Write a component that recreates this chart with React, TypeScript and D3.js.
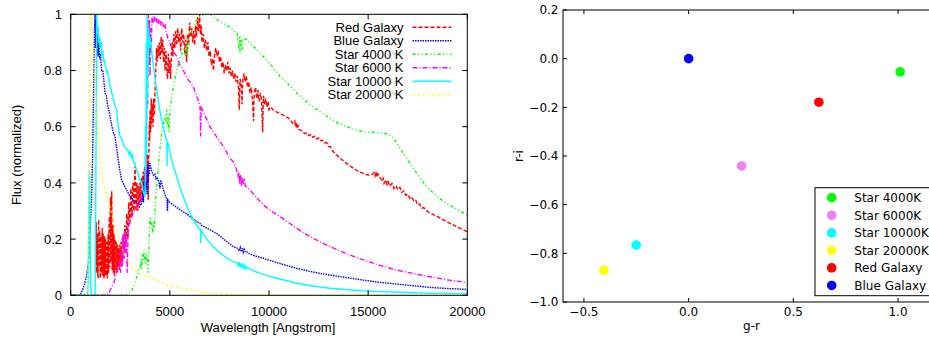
import React from "react";
import * as d3 from "d3";

type P = [number, number];

// ---- Left panel: spectra (wavelength [A], normalized flux) ----
const redGalaxy: P[] = [
  [1260,0.12],[1275,0.2],[1290,0.26],[1305,0.1],[1320,0.08],[1335,0.19],[1350,0.22],[1365,0.07],[1380,0.06],[1395,0.18],[1410,0.27],[1425,0.13],[1440,0.10],[1455,0.23],[1470,0.20],[1485,0.06],[1500,0.07],[1515,0.21],[1530,0.18],[1545,0.08],[1560,0.09],[1575,0.2],[1590,0.24],[1605,0.07],[1620,0.11],[1635,0.22],[1650,0.19],[1665,0.08],[1680,0.06],[1695,0.17],[1710,0.21],[1725,0.07],[1740,0.12],[1755,0.2],[1770,0.17],[1785,0.07],[1800,0.08],[1815,0.19],[1830,0.16],[1845,0.06],[1860,0.10],[1875,0.2],[1890,0.22],[1905,0.08],[1920,0.09],[1935,0.25],[1950,0.28],[1965,0.1],[1980,0.12],[1995,0.3],[2010,0.35],[2025,0.12],[2040,0.14],[2055,0.33],[2070,0.37],[2085,0.09],[2100,0.10],[2115,0.22],[2130,0.25],[2145,0.08],[2160,0.13],[2175,0.22],[2190,0.20],[2205,0.07],[2220,0.08],[2235,0.2],[2250,0.18],[2265,0.09],[2280,0.11],[2295,0.19],[2310,0.17],[2325,0.08],[2340,0.09],[2355,0.18],[2370,0.16],[2385,0.1],[2400,0.12],[2415,0.17],[2430,0.15],[2445,0.09],[2460,0.10],[2475,0.18],[2490,0.17],[2505,0.11],[2520,0.13],[2535,0.19],[2550,0.18],[2575,0.12],[2600,0.14],[2625,0.21],[2650,0.2],[2675,0.13],[2700,0.16],[2725,0.25],[2750,0.23],[2775,0.17],[2800,0.2],[2825,0.29],[2850,0.27],[2875,0.2],[2900,0.24],[2925,0.33],[2950,0.31],[2975,0.25],[3000,0.28],[3025,0.38],[3050,0.36],[3075,0.28],[3100,0.30],[3125,0.39],[3150,0.40],[3175,0.3],[3200,0.31],[3225,0.42],[3250,0.46],[3280,0.33],[3300,0.3],[3320,0.38],[3340,0.4],[3360,0.32],[3380,0.3],[3400,0.36],[3420,0.39],[3440,0.32],[3460,0.31],[3480,0.37],[3500,0.4],[3520,0.34],[3540,0.33],[3560,0.40],[3580,0.42],[3600,0.35],[3620,0.34],[3640,0.43],[3660,0.44],[3680,0.37],[3700,0.36],[3720,0.45],[3740,0.46],[3760,0.39],[3780,0.38],[3800,0.48],[3820,0.47],[3840,0.41],[3860,0.4],[3880,0.50],[3895,0.42],[3910,0.34],[3925,0.45],[3940,0.50],[3955,0.58],[3970,0.62],[3985,0.55],[4000,0.66],[4015,0.64],[4030,0.58],[4045,0.6],[4060,0.70],[4075,0.67],[4090,0.61],[4105,0.63],[4120,0.68],[4135,0.66],[4150,0.60],[4165,0.62],[4180,0.70],[4195,0.67],[4210,0.64],[4230,0.66],[4250,0.72],[4270,0.76],[4290,0.80],[4310,0.84],[4330,0.88],[4345,0.86],[4360,0.83],[4380,0.87],[4400,0.89],[4420,0.87],[4440,0.85],[4460,0.88],[4480,0.90],[4500,0.88],[4520,0.84],[4540,0.87],[4560,0.92],[4580,0.9],[4600,0.86],[4620,0.88],[4640,0.91],[4660,0.88],[4680,0.83],[4700,0.85],[4720,0.88],[4740,0.85],[4760,0.80],[4780,0.83],[4800,0.87],[4820,0.85],[4840,0.81],[4860,0.79],[4880,0.77],[4900,0.8],[4920,0.86],[4940,0.83],[4960,0.79],[4980,0.81],[5000,0.84],[5020,0.8],[5040,0.77],[5060,0.82],[5080,0.86],[5100,0.88],[5120,0.90],[5140,0.87],[5160,0.85],[5180,0.9],[5200,0.93],[5225,0.9],[5250,0.88],[5275,0.92],[5300,0.94],[5325,0.91],[5350,0.89],[5375,0.93],[5400,0.95],[5425,0.92],[5450,0.90],[5475,0.92],[5500,0.93],[5525,0.9],[5550,0.87],[5575,0.92],[5600,0.95],[5625,0.93],[5650,0.90],[5675,0.92],[5700,0.93],[5725,0.89],[5750,0.86],[5775,0.89],[5800,0.91],[5825,0.87],[5850,0.83],[5875,0.89],[5900,0.93],[5925,0.91],[5950,0.89],[5975,0.93],[6000,0.97],[6025,0.94],[6050,0.92],[6075,0.94],[6100,0.95],[6125,0.92],[6150,0.90],[6175,0.92],[6200,0.94],[6225,0.91],[6250,0.89],[6275,0.93],[6300,0.96],[6325,0.94],[6350,0.92],[6375,0.96],[6400,0.99],[6425,0.96],[6450,0.94],[6475,0.97],[6500,1.0],[6520,0.96],[6540,0.93],[6560,0.94],[6580,0.96],[6600,0.93],[6620,0.90],[6650,0.92],[6680,0.93],[6710,0.9],[6740,0.88],[6770,0.9],[6800,0.91],[6830,0.89],[6860,0.87],[6890,0.89],[6920,0.90],[6950,0.87],[6980,0.85],[7010,0.86],[7040,0.87],[7070,0.84],[7100,0.82],[7130,0.83],[7160,0.84],[7180,0.82],[7200,0.80],[7230,0.83],[7260,0.86],[7290,0.87],[7320,0.88],[7350,0.86],[7380,0.85],[7410,0.86],[7440,0.87],[7470,0.85],[7500,0.83],[7530,0.84],[7560,0.85],[7590,0.83],[7620,0.81],[7650,0.82],[7680,0.83],[7710,0.81],[7740,0.79],[7770,0.8],[7800,0.82],[7830,0.81],[7860,0.80],[7890,0.81],[7920,0.83],[7950,0.81],[7980,0.79],[8010,0.8],[8040,0.81],[8070,0.79],[8100,0.78],[8130,0.79],[8160,0.80],[8190,0.78],[8220,0.77],[8250,0.78],[8280,0.79],[8310,0.77],[8340,0.76],[8370,0.77],[8400,0.78],[8430,0.76],[8460,0.74],[8480,0.7],[8500,0.66],[8520,0.72],[8540,0.77],[8570,0.76],[8600,0.75],[8620,0.72],[8640,0.68],[8660,0.73],[8680,0.77],[8710,0.78],[8740,0.79],[8770,0.77],[8800,0.76],[8830,0.77],[8860,0.78],[8890,0.76],[8920,0.74],[8950,0.75],[8980,0.76],[9010,0.74],[9040,0.72],[9070,0.73],[9100,0.74],[9130,0.72],[9160,0.70],[9190,0.66],[9220,0.62],[9240,0.68],[9260,0.72],[9290,0.73],[9320,0.74],[9350,0.72],[9380,0.70],[9410,0.71],[9440,0.73],[9470,0.71],[9500,0.69],[9530,0.7],[9560,0.72],[9590,0.71],[9620,0.70],[9650,0.64],[9680,0.58],[9700,0.65],[9720,0.71],[9750,0.7],[9780,0.68],[9810,0.69],[9840,0.70],[9870,0.68],[9900,0.67],[9930,0.68],[9960,0.69],[9980,0.67],[10000,0.66],[10100,0.67],[10200,0.66],[10400,0.652],[10600,0.645],[10800,0.638],[11000,0.63],[11200,0.612],[11300,0.62],[11340,0.60],[11380,0.615],[11420,0.595],[11460,0.607],[11500,0.59],[11600,0.588],[11700,0.582],[11800,0.575],[11900,0.578],[12000,0.568],[12100,0.572],[12200,0.562],[12300,0.566],[12400,0.556],[12500,0.56],[12600,0.55],[12700,0.552],[12800,0.542],[12900,0.544],[13000,0.53],[13100,0.528],[13200,0.515],[13400,0.5],[13600,0.487],[13800,0.475],[14000,0.465],[14200,0.455],[14400,0.445],[14600,0.438],[14800,0.432],[15000,0.428],[15200,0.43],[15300,0.437],[15350,0.425],[15400,0.44],[15450,0.42],[15500,0.432],[15600,0.418],[15700,0.41],[15750,0.42],[15800,0.398],[15900,0.41],[15950,0.395],[16000,0.405],[16100,0.388],[16200,0.398],[16300,0.38],[16400,0.39],[16500,0.376],[16600,0.384],[16700,0.366],[16800,0.372],[16900,0.356],[17000,0.36],[17100,0.345],[17200,0.35],[17300,0.335],[17400,0.338],[17500,0.322],[17600,0.325],[17700,0.31],[17800,0.312],[18000,0.298],[18500,0.28],[19000,0.26],[19500,0.243],[20000,0.226],
];

const blueGalaxy: P[] = [
  [0,0],[400,0],[500,0.005],[600,0.02],[700,0.04],[800,0.07],[900,0.12],[950,0.18],[1000,0.26],[1050,0.34],[1100,0.48],[1150,0.7],[1200,0.95],[1230,1.0],[1260,0.88],[1290,0.98],[1320,0.86],[1350,0.95],[1380,0.85],[1420,0.9],[1460,0.84],[1500,0.86],[1560,0.8],[1620,0.8],[1680,0.76],[1730,0.72],[1800,0.71],[1850,0.68],[1920,0.66],[2000,0.63],[2080,0.6],[2150,0.58],[2235,0.565],[2320,0.52],[2400,0.48],[2490,0.44],[2570,0.41],[2700,0.39],[2820,0.375],[3000,0.35],[3240,0.335],[3410,0.327],[3550,0.32],[3600,0.34],[3640,0.38],[3670,0.33],[3700,0.42],[3730,0.36],[3760,0.45],[3790,0.38],[3820,0.43],[3850,0.36],[3880,0.46],[3910,0.4],[3940,0.47],[3970,0.43],[4000,0.47],[4050,0.45],[4100,0.44],[4150,0.43],[4200,0.425],[4250,0.43],[4300,0.415],[4350,0.42],[4400,0.41],[4450,0.405],[4500,0.38],[4540,0.41],[4600,0.395],[4700,0.37],[4800,0.35],[4860,0.34],[4880,0.30],[4900,0.34],[5000,0.33],[5200,0.32],[5400,0.31],[5600,0.30],[5850,0.29],[6200,0.27],[6520,0.256],[6560,0.25],[6900,0.238],[7360,0.22],[7800,0.195],[8200,0.173],[8400,0.168],[8500,0.158],[8550,0.17],[8600,0.155],[8650,0.168],[8700,0.153],[8750,0.164],[8800,0.155],[8880,0.155],[9000,0.148],[9300,0.14],[9710,0.132],[10000,0.125],[10500,0.114],[11000,0.104],[11400,0.096],[12000,0.086],[12500,0.079],[13080,0.072],[13900,0.063],[14760,0.054],[15600,0.046],[16440,0.04],[17300,0.034],[18120,0.028],[19000,0.024],[20000,0.021],
];

const star4000: P[] = [
  [0,0],[2700,0],[2900,0.005],[3000,0.01],[3100,0.02],[3160,0.03],[3250,0.045],[3330,0.066],[3400,0.08],[3450,0.095],[3500,0.10],[3550,0.13],[3580,0.09],[3620,0.15],[3660,0.12],[3700,0.16],[3740,0.13],[3780,0.11],[3820,0.15],[3860,0.12],[3900,0.08],[3940,0.16],[3970,0.24],[4000,0.28],[4040,0.25],[4080,0.27],[4120,0.22],[4170,0.26],[4220,0.23],[4260,0.32],[4300,0.36],[4350,0.40],[4400,0.44],[4450,0.49],[4500,0.52],[4550,0.55],[4600,0.58],[4650,0.6],[4700,0.62],[4750,0.64],[4800,0.62],[4840,0.66],[4880,0.6],[4920,0.64],[4960,0.58],[5000,0.65],[5050,0.68],[5100,0.71],[5180,0.74],[5250,0.77],[5350,0.8],[5450,0.83],[5550,0.85],[5650,0.87],[5750,0.88],[5800,0.85],[5850,0.9],[5900,0.86],[5950,0.91],[6010,0.92],[6100,0.94],[6200,0.96],[6350,0.98],[6520,0.99],[6600,0.995],[6800,1.0],[7000,1.0],[7200,0.99],[7400,0.98],[7700,0.968],[8000,0.955],[8200,0.944],[8400,0.93],[8470,0.88],[8500,0.92],[8540,0.86],[8580,0.92],[8640,0.87],[8700,0.915],[8880,0.91],[9040,0.897],[9300,0.88],[9710,0.85],[10100,0.82],[10560,0.778],[11000,0.75],[11400,0.72],[11800,0.695],[12230,0.67],[12650,0.65],[13070,0.63],[13500,0.612],[13920,0.6],[14300,0.59],[14760,0.582],[15260,0.58],[15760,0.577],[16000,0.573],[16270,0.56],[16500,0.535],[16770,0.505],[17100,0.47],[17450,0.434],[17800,0.4],[18120,0.375],[18500,0.35],[18960,0.327],[19500,0.305],[20000,0.286],
];

const star6000: P[] = [
  [0,0],[1800,0],[1900,0.005],[2000,0.02],[2100,0.035],[2200,0.05],[2300,0.075],[2400,0.1],[2480,0.12],[2520,0.08],[2560,0.2],[2600,0.1],[2640,0.22],[2680,0.12],[2720,0.23],[2760,0.15],[2800,0.21],[2850,0.08],[2900,0.24],[3000,0.265],[3075,0.28],[3200,0.3],[3300,0.315],[3410,0.327],[3550,0.345],[3650,0.36],[3750,0.37],[3780,0.45],[3800,0.4],[3830,0.64],[3860,0.75],[3880,0.68],[3910,1.0],[3940,0.82],[3970,0.98],[4000,0.78],[4030,0.95],[4060,0.86],[4100,0.99],[4150,0.97],[4200,0.995],[4250,0.975],[4300,0.99],[4350,0.97],[4400,0.985],[4450,0.965],[4500,0.98],[4560,0.96],[4620,0.975],[4670,0.96],[4720,0.95],[4760,0.965],[4800,0.94],[4840,0.93],[4900,0.915],[5010,0.897],[5150,0.87],[5350,0.85],[5500,0.82],[5680,0.80],[5900,0.77],[6180,0.742],[6350,0.71],[6520,0.675],[6550,0.565],[6580,0.67],[6800,0.635],[7020,0.6],[7350,0.565],[7700,0.53],[8000,0.49],[8200,0.475],[8350,0.45],[8450,0.42],[8480,0.44],[8520,0.395],[8560,0.43],[8600,0.39],[8650,0.42],[8700,0.4],[8750,0.41],[8800,0.39],[9040,0.375],[9400,0.345],[9710,0.322],[10100,0.3],[10560,0.28],[11000,0.258],[11400,0.238],[11800,0.22],[12230,0.203],[12650,0.188],[13080,0.173],[13900,0.148],[14760,0.126],[15600,0.106],[16440,0.09],[17300,0.077],[18120,0.066],[19000,0.055],[20000,0.045],
];

const star10000: P[] = [
  [0,0],[850,0],[880,0.05],[900,0.15],[920,0.3],[940,0.44],[960,0.4],[980,0.2],[1000,0.05],[1050,0],[1230,0],[1260,0.3],[1290,0.7],[1310,1.0],[1340,0.93],[1380,0.96],[1420,0.9],[1460,0.92],[1500,0.88],[1540,0.9],[1580,0.85],[1620,0.87],[1660,0.83],[1700,0.84],[1730,0.82],[1780,0.81],[1820,0.79],[1860,0.8],[1900,0.78],[1950,0.76],[2000,0.74],[2070,0.72],[2150,0.7],[2200,0.68],[2250,0.67],[2320,0.66],[2360,0.62],[2400,0.6],[2450,0.58],[2490,0.565],[2550,0.56],[2600,0.55],[2650,0.54],[2700,0.53],[2760,0.525],[2820,0.52],[2900,0.515],[2950,0.5],[3000,0.51],[3050,0.49],[3100,0.5],[3150,0.48],[3200,0.47],[3240,0.47],[3300,0.45],[3350,0.44],[3400,0.43],[3450,0.42],[3500,0.41],[3580,0.4],[3650,0.37],[3700,0.36],[3750,0.35],[3770,0.6],[3790,0.45],[3810,0.9],[3830,0.5],[3850,1.0],[3870,0.7],[3890,0.97],[3910,0.8],[3930,0.95],[3960,0.88],[4000,0.92],[4100,0.86],[4200,0.8],[4300,0.75],[4400,0.7],[4500,0.655],[4600,0.62],[4700,0.59],[4800,0.56],[4850,0.55],[4860,0.46],[4870,0.545],[4920,0.54],[5000,0.51],[5100,0.48],[5200,0.455],[5350,0.422],[5500,0.385],[5680,0.35],[5900,0.31],[6180,0.268],[6400,0.245],[6540,0.232],[6560,0.186],[6580,0.23],[6800,0.205],[7000,0.188],[7360,0.161],[7800,0.136],[8200,0.12],[8400,0.115],[8450,0.105],[8500,0.118],[8550,0.1],[8600,0.113],[8650,0.098],[8700,0.11],[8750,0.095],[8800,0.105],[8850,0.094],[8900,0.1],[9000,0.095],[9300,0.085],[9550,0.078],[10000,0.068],[10550,0.058],[11400,0.043],[12200,0.033],[13080,0.025],[14000,0.02],[14760,0.016],[15600,0.013],[16440,0.011],[17300,0.009],[18120,0.007],[19000,0.006],[20000,0.005],
];

const star20000: P[] = [
  [0,0],[800,0],[850,0.02],[880,0.1],[900,0.25],[920,0.45],[940,0.65],[960,0.8],[980,0.92],[1000,0.98],[1040,1.0],[1080,0.97],[1120,0.9],[1180,0.82],[1250,0.73],[1320,0.64],[1400,0.56],[1480,0.49],[1600,0.42],[1730,0.375],[1850,0.34],[1980,0.315],[2150,0.27],[2320,0.232],[2450,0.2],[2570,0.173],[2700,0.145],[2820,0.126],[3000,0.105],[3240,0.09],[3400,0.08],[3580,0.072],[3800,0.068],[4000,0.066],[4100,0.063],[4300,0.055],[4590,0.048],[4840,0.037],[5000,0.034],[5500,0.026],[6000,0.02],[6520,0.013],[7000,0.009],[7500,0.006],[8000,0.004],[9000,0.002],[10000,0.001],[12000,0],[20000,0],
];

const spectraNames = ["Red Galaxy", "Blue Galaxy", "Star 4000 K", "Star 6000 K", "Star 10000 K", "Star 20000 K"];
const spectraColors = ["#ff0000", "#0000ff", "#00ff00", "#ff00ff", "#00ffff", "#ffff00"];
const spectraDashes = ["4,2", "1.5,1", "3,2.5,1,2.5,1,2.5", "5,2,1,2", "", "2,3"];
const spectra = [redGalaxy, blueGalaxy, star4000, star6000, star10000, star20000];

const wlTicks = [0, 5000, 10000, 15000, 20000];
const fluxTicks = [0, 0.2, 0.4, 0.6, 0.8, 1];

// ---- Right panel: colour-colour diagram ----
const ccNames = ["Star 4000K", "Star 6000K", "Star 10000K", "Star 20000K", "Red Galaxy", "Blue Galaxy"];
const ccColors = ["#00ff00", "#ee82ee", "#00ffff", "#ffff00", "#ff0000", "#0000ff"];
const grValues = [1.01, 0.253, -0.25, -0.405, 0.622, 0.0];
const riValues = [-0.054, -0.441, -0.766, -0.87, -0.179, 0.0];
const grTicks = [-0.5, 0.0, 0.5, 1.0];
const riTicks = [0.2, 0.0, -0.2, -0.4, -0.6, -0.8, -1.0];

const LFONT = "'Liberation Sans', Arial, Helvetica, sans-serif";
const RFONT = "'DejaVu Sans', 'Bitstream Vera Sans', sans-serif";

function fmtMpl(v: number): string {
  const s = Math.abs(v).toFixed(1);
  return (v < 0 ? "\u2212" : "") + s;
}

export default function App() {
  // Left panel scales
  const L = { left: 70.7, right: 467.3, top: 14.3, bottom: 295.3 };
  const x = d3.scaleLinear().domain([0, 20000]).range([L.left, L.right]);
  const y = d3.scaleLinear().domain([0, 1]).range([L.bottom, L.top]);
  const line = d3
    .line<P>()
    .x((d) => x(d[0]))
    .y((d) => y(d[1]));

  // Right panel scales
  const R = { left: 563.0, right: 940.0, top: 10, bottom: 302 };
  const gx = d3.scaleLinear().domain([-0.6, 1.2]).range([R.left, R.left + 1.8 * 209.4]);
  const ry = d3.scaleLinear().domain([-1.0, 0.2]).range([R.bottom, R.top]);

  const tl = 5;
  const legendRowY = (i: number) => 27.2 + i * 13.5;
  const ccRowY = (i: number) => 197.7 + i * 17.55;

  return (
    <svg
      width={929}
      height={338}
      style={{ position: "absolute", left: 0, top: 0, background: "#fff" }}
    >
      <rect x={0} y={0} width={929} height={338} fill="#fff" />
      <defs>
        <clipPath id="lclip">
          <rect x={L.left} y={L.top} width={L.right - L.left} height={L.bottom - L.top} />
        </clipPath>
      </defs>

      {/* ===== Left panel ===== */}
      <g clipPath="url(#lclip)">
        {spectra.map((s, i) => (
          <path
            key={i}
            d={line(s) || ""}
            fill="none"
            stroke={spectraColors[i]}
            strokeWidth={1.4}
            strokeDasharray={spectraDashes[i] || undefined}
          />
        ))}
      </g>
      <rect
        x={L.left}
        y={L.top}
        width={L.right - L.left}
        height={L.bottom - L.top}
        fill="none"
        stroke="#000"
        strokeWidth={1}
      />
      {wlTicks.map((t) => (
        <g key={"wx" + t}>
          <line x1={x(t)} x2={x(t)} y1={L.bottom} y2={L.bottom - tl} stroke="#000" />
          <line x1={x(t)} x2={x(t)} y1={L.top} y2={L.top + tl} stroke="#000" />
          <text x={x(t)} y={315.7} textAnchor="middle" fontFamily={LFONT} fontSize={13} fill="#000">
            {t}
          </text>
        </g>
      ))}
      {fluxTicks.map((t) => (
        <g key={"fy" + t}>
          <line x1={L.left} x2={L.left + tl} y1={y(t)} y2={y(t)} stroke="#000" />
          <line x1={L.right} x2={L.right - tl} y1={y(t)} y2={y(t)} stroke="#000" />
          <text x={62} y={y(t) + 4.6} textAnchor="end" fontFamily={LFONT} fontSize={13} fill="#000">
            {String(t)}
          </text>
        </g>
      ))}
      <text x={268} y={331.5} textAnchor="middle" fontFamily={LFONT} fontSize={13} fill="#000">
        Wavelength [Angstrom]
      </text>
      <text
        transform={`translate(21,${(L.top + L.bottom) / 2}) rotate(-90)`}
        textAnchor="middle"
        fontFamily={LFONT}
        fontSize={13}
        fill="#000"
      >
        Flux (normalized)
      </text>
      {spectraNames.map((n, i) => (
        <g key={"lg" + i}>
          <text x={403.5} y={legendRowY(i) + 4.5} textAnchor="end" fontFamily={LFONT} fontSize={13} fill="#000">
            {n}
          </text>
          <line
            x1={412.5}
            x2={451.5}
            y1={legendRowY(i)}
            y2={legendRowY(i)}
            stroke={spectraColors[i]}
            strokeWidth={1.4}
            strokeDasharray={spectraDashes[i] || undefined}
          />
        </g>
      ))}

      {/* ===== Right panel ===== */}
      {grValues.map((g, i) => (
        <circle key={"pt" + i} cx={gx(g)} cy={ry(riValues[i])} r={4.8} fill={ccColors[i]} />
      ))}
      <rect
        x={R.left}
        y={R.top}
        width={R.right - R.left}
        height={R.bottom - R.top}
        fill="none"
        stroke="#000"
        strokeWidth={1}
      />
      {grTicks.map((t) => (
        <g key={"gx" + t}>
          <line x1={gx(t)} x2={gx(t)} y1={R.bottom} y2={R.bottom - 4} stroke="#000" />
          <line x1={gx(t)} x2={gx(t)} y1={R.top} y2={R.top + 4} stroke="#000" />
          <text x={gx(t)} y={316} textAnchor="middle" fontFamily={RFONT} fontSize={12} fill="#000">
            {fmtMpl(t)}
          </text>
        </g>
      ))}
      {riTicks.map((t) => (
        <g key={"ry" + t}>
          <line x1={R.left} x2={R.left + 4} y1={ry(t)} y2={ry(t)} stroke="#000" />
          <text x={558.5} y={ry(t) + 4.3} textAnchor="end" fontFamily={RFONT} fontSize={12} fill="#000">
            {fmtMpl(t)}
          </text>
        </g>
      ))}
      <text x={751.5} y={330} textAnchor="middle" fontFamily={RFONT} fontSize={12} fill="#000">
        g-r
      </text>
      <text
        transform={`translate(523,${ry(-0.4)}) rotate(-90)`}
        textAnchor="middle"
        fontFamily={RFONT}
        fontSize={12}
        fill="#000"
      >
        r-i
      </text>
      <rect x={815} y={187.7} width={130} height={108} fill="#fff" stroke="#000" strokeWidth={1} />
      {ccNames.map((n, i) => (
        <g key={"cl" + i}>
          <circle cx={831.7} cy={ccRowY(i)} r={4.8} fill={ccColors[i]} />
          <text x={854.3} y={ccRowY(i) + 4.3} fontFamily={RFONT} fontSize={12} fill="#000">
            {n}
          </text>
        </g>
      ))}
    </svg>
  );
}
